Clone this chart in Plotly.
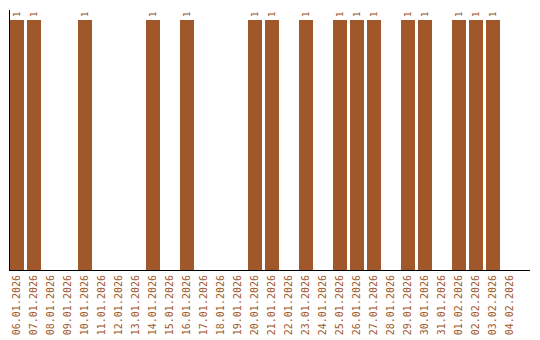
import plotly.graph_objects as go

dates = ["06.01.2026", "07.01.2026", "08.01.2026", "09.01.2026", "10.01.2026",
         "11.01.2026", "12.01.2026", "13.01.2026", "14.01.2026", "15.01.2026",
         "16.01.2026", "17.01.2026", "18.01.2026", "19.01.2026", "20.01.2026",
         "21.01.2026", "22.01.2026", "23.01.2026", "24.01.2026", "25.01.2026",
         "26.01.2026", "27.01.2026", "28.01.2026", "29.01.2026", "30.01.2026",
         "31.01.2026", "01.02.2026", "02.02.2026", "03.02.2026", "04.02.2026"]
values = [1, 1, 0, 0, 1, 0, 0, 0, 1, 0, 1, 0, 0, 0, 1, 1, 0, 1, 0, 1,
          1, 1, 0, 1, 1, 0, 1, 1, 1, 0]

labels = [str(v) if v else "" for v in values]
color = "#A0572A"

fig = go.Figure(go.Bar(
    x=dates, y=values, text=labels, textposition="outside", textangle=-90,
    cliponaxis=False, width=14 / 17,
    textfont=dict(family="DejaVu Sans Mono", size=9, color=color),
    marker=dict(color=color, line=dict(width=0)),
))
fig.update_layout(
    width=540, height=340, margin=dict(l=10, r=10, t=10, b=70, autoexpand=False),
    paper_bgcolor="white", plot_bgcolor="white",
    showlegend=False,
    font=dict(family="DejaVu Sans Mono", size=10, color=color),
)
fig.update_xaxes(type="category", tickangle=-90, showline=True, linecolor="black",
                 linewidth=1, ticks="", showgrid=False, automargin=False,
                 range=[-7 / 17, -7 / 17 + 520 / 17],
                 tickfont=dict(family="DejaVu Sans Mono", size=10, color=color))
fig.update_yaxes(range=[0, 1.04], showline=True, linecolor="black", linewidth=1,
                 showticklabels=False, ticks="", showgrid=False, zeroline=False,
                 automargin=False)
fig.write_html("out.html")
